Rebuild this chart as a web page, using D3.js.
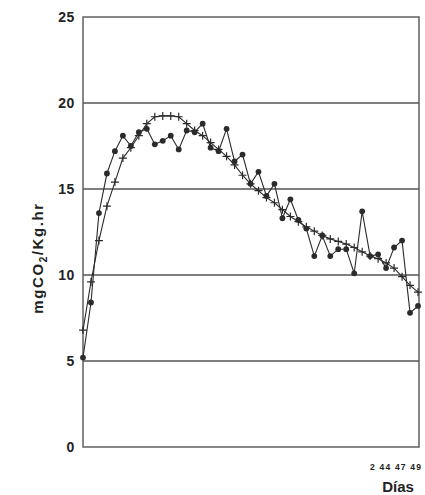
<!DOCTYPE html>
<html>
<head>
<meta charset="utf-8">
<script src="https://cdn.jsdelivr.net/npm/d3@7"></script>
<style>
  body { margin: 0; background: #fff; }
  svg { display: block; font-family: "Liberation Sans", Arial, sans-serif; }
</style>
</head>
<body>
<svg id="chart" width="425" height="495"></svg>
<script>
// Measured respiration rate, one point per day
const dot_values = [5.2, 8.4, 13.6, 15.9, 17.2, 18.1, 17.5, 18.3, 18.5, 17.6,
  17.8, 18.1, 17.3, 18.4, 18.3, 18.8, 17.4, 17.2, 18.5, 16.6,
  17.0, 15.3, 16.0, 14.6, 15.3, 13.3, 14.4, 13.2, 12.7, 11.1,
  12.3, 11.1, 11.5, 11.5, 10.1, 13.7, 11.1, 11.2, 10.4, 11.6,
  12.0, 7.8, 8.2];

// Fitted curve
const cross_values = [6.8, 9.6, 12.0, 14.0, 15.4, 16.8, 17.4, 18.1, 18.8, 19.2,
  19.25, 19.25, 19.2, 18.8, 18.4, 18.1, 17.7, 17.3, 16.9, 16.4,
  15.8, 15.3, 14.9, 14.5, 14.2, 13.8, 13.4, 13.1, 12.8, 12.55,
  12.3, 12.1, 11.95, 11.8, 11.6, 11.35, 11.1, 10.95, 10.7, 10.4,
  9.9, 9.4, 9.0];

const y_ticks = [0, 5, 10, 15, 20, 25];
const x_tick_labels = ['2', '44', '47', '49'];

const svg = d3.select('#chart');
const line_color = '#2b2b2b';
const grid_color = '#555';

const x = d3.scaleLinear()
  .domain([0, dot_values.length - 1])
  .range([83, 418]);

const y = d3.scaleLinear()
  .domain([0, 25])
  .range([447, 17]);

// Horizontal gridlines
svg.append('g')
  .attr('class', 'grid')
  .selectAll('line')
  .data(y_ticks.filter(d => d > 0 && d < 25))
  .join('line')
  .attr('x1', 83)
  .attr('x2', 419)
  .attr('y1', d => y(d))
  .attr('y2', d => y(d))
  .attr('stroke', grid_color)
  .attr('stroke-width', 1.4);

// Frame
svg.append('rect')
  .attr('x', 83)
  .attr('y', y(25))
  .attr('width', 419 - 83)
  .attr('height', y(0) - y(25))
  .attr('fill', 'none')
  .attr('stroke', grid_color)
  .attr('stroke-width', 1.4);

// Y axis labels
const y_axis = svg.append('g')
  .attr('transform', 'translate(79,0)')
  .call(d3.axisLeft(y).tickValues(y_ticks).tickSize(0).tickPadding(4));
y_axis.select('.domain').remove();
y_axis.selectAll('text')
  .attr('fill', '#222')
  .attr('font-size', 14)
  .attr('font-weight', 'bold')
  .attr('font-family', '"Liberation Sans", Arial, sans-serif')
  .style('letter-spacing', '0.6px');

// Y title
const y_title = svg.append('text')
  .attr('transform', 'translate(43,258) rotate(-90)')
  .attr('text-anchor', 'middle')
  .attr('font-size', 15)
  .attr('font-weight', 'bold')
  .attr('fill', '#222')
  .style('letter-spacing', '1.6px');
y_title.append('tspan').text('mgCO');
y_title.append('tspan').attr('font-size', 10).attr('dy', 4).text('2');
y_title.append('tspan').attr('dy', -4).text('/Kg.hr');

// X labels (only the last few are printed)
svg.append('text')
  .attr('x', 370)
  .attr('y', 470)
  .attr('font-size', 8.5)
  .attr('font-weight', 'bold')
  .attr('fill', '#222')
  .style('letter-spacing', '1.2px')
  .text(x_tick_labels.join(' '));

svg.append('text')
  .attr('x', 398)
  .attr('y', 492)
  .attr('text-anchor', 'middle')
  .attr('font-size', 15)
  .attr('font-weight', 'bold')
  .attr('fill', '#222')
  .text('Días');

const line_gen = d3.line()
  .x((d, i) => x(i))
  .y(d => y(d));

// Cross series
svg.append('path')
  .datum(cross_values)
  .attr('d', line_gen)
  .attr('fill', 'none')
  .attr('stroke', line_color)
  .attr('stroke-width', 1.1);

svg.append('g')
  .selectAll('path')
  .data(cross_values)
  .join('path')
  .attr('transform', (d, i) => `translate(${x(i)},${y(d)})`)
  .attr('d', 'M-4,0H4M0,-4V4')
  .attr('stroke', line_color)
  .attr('stroke-width', 1.2);

// Dot series
svg.append('path')
  .datum(dot_values)
  .attr('d', line_gen)
  .attr('fill', 'none')
  .attr('stroke', line_color)
  .attr('stroke-width', 1.1);

svg.append('g')
  .selectAll('circle')
  .data(dot_values)
  .join('circle')
  .attr('cx', (d, i) => x(i))
  .attr('cy', d => y(d))
  .attr('r', 2.9)
  .attr('fill', line_color);
</script>
</body>
</html>
